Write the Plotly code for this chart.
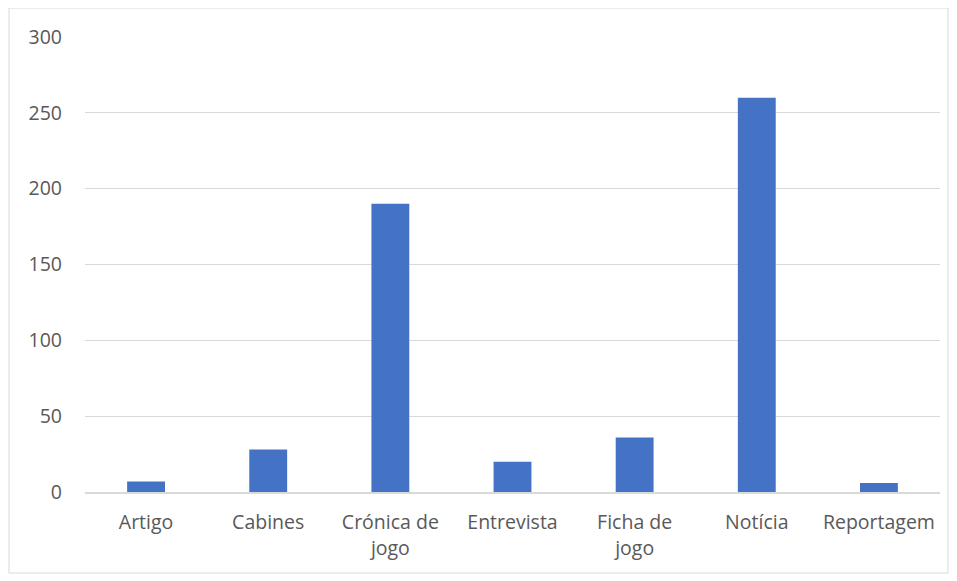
import plotly.graph_objects as go

categories = ["Artigo", "Cabines", "Crónica de<br>jogo", "Entrevista", "Ficha de<br>jogo", "Notícia", "Reportagem"]
values = [7, 28, 190, 20, 36, 260, 6]
y_ticks = [0, 50, 100, 150, 200, 250, 300]

fig = go.Figure(go.Bar(x=categories, y=values, marker=dict(color="#4472C4", line=dict(width=0)), width=0.31))

font = dict(family="Open Sans, Liberation Sans, sans-serif", size=19.5, color="#595959")
fig.update_layout(
    width=957, height=581,
    margin=dict(l=77, r=25, t=29, b=97),
    plot_bgcolor="white", paper_bgcolor="white",
    font=font,
    showlegend=False,
    xaxis=dict(showgrid=False, showline=True, linecolor="#d9d9d9", linewidth=1.5,
               ticks="", tickfont=font, ticklabelstandoff=12),
    yaxis=dict(range=[0, 300], tickvals=y_ticks, showgrid=True, gridcolor="#d9d9d9",
               gridwidth=1, zeroline=False, showline=False, ticks="", tickfont=font,
               ticklabelstandoff=22),
    shapes=[dict(type="rect", xref="paper", yref="paper",
                 x0=-0.0889, x1=1.0094, y0=-0.178, y1=1.0637,
                 line=dict(color="#d9d9d9", width=1))],
)

fig.write_html("out.html")
